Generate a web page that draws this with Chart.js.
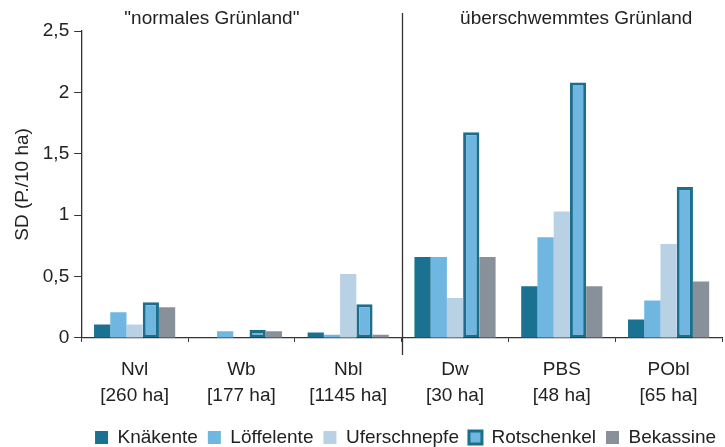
<!DOCTYPE html>
<html lang="de">
<head>
<meta charset="UTF-8">
<title>SD Wiesenbrüter</title>
<script src="https://cdn.jsdelivr.net/npm/chart.js"></script>
<style>
  body { margin: 0; background: #fff; }
  #wrap { width: 725px; height: 447px; }
</style>
</head>
<body>
<div id="wrap"><canvas id="c" width="725" height="447"></canvas></div>
<script>
const sites = ['Nvl', 'Wb', 'Nbl', 'Dw', 'PBS', 'PObl'];
const areas = ['[260 ha]', '[177 ha]', '[1145 ha]', '[30 ha]', '[48 ha]', '[65 ha]'];
const groupTitles = ['"normales Grünland"', 'überschwemmtes Grünland'];

const knaekente    = [0.11, 0,     0.045, 0.66, 0.42, 0.15];
const loeffelente  = [0.21, 0.055, 0.025, 0.66, 0.82, 0.305];
const uferschnepfe = [0.11, 0,     0.52,  0.325, 1.03, 0.765];
const rotschenkel  = [0.29, 0.065, 0.275, 1.675, 2.08, 1.23];
const bekassine    = [0.25, 0.055, 0.025, 0.66, 0.42, 0.46];

const FONT = 'Liberation Sans, Arial, sans-serif';
const TXT = '#222';

// Trennlinie + Gruppenüberschriften
const groupPlugin = {
  id: 'groups',
  afterLayout(chart) {
    // Legende unter dem Diagrammbereich zentrieren und etwas anheben
    const lg = chart.legend;
    const shift = (chart.chartArea.left + chart.chartArea.right) / 2 + 4 - (lg.left + lg.right) / 2;
    lg.left += shift;
    lg.right += shift;
    lg.top -= 6;
    lg.bottom -= 6;
  },
  afterDraw(chart) {
    const ctx = chart.ctx;
    const x = chart.scales.x;
    const area = chart.chartArea;
    const step = x.getPixelForValue(1) - x.getPixelForValue(0);
    const divX = Math.round(x.getPixelForValue(2) + step / 2) + 0.5;
    ctx.save();
    ctx.strokeStyle = '#333';
    ctx.lineWidth = 1.3;
    ctx.beginPath();
    ctx.moveTo(divX, 13);
    ctx.lineTo(divX, area.bottom + 17);
    ctx.stroke();
    ctx.fillStyle = TXT;
    ctx.font = '19px ' + FONT;
    ctx.textAlign = 'center';
    ctx.textBaseline = 'middle';
    ctx.fillText(groupTitles[0], (area.left + divX) / 2 - 30, 19);
    ctx.fillText(groupTitles[1], (divX + area.right) / 2 + 14, 19);
    ctx.restore();
  }
};

new Chart(document.getElementById('c'), {
  type: 'bar',
  data: {
    labels: sites.map((s, i) => [s, areas[i]]),
    datasets: [
      { label: 'Knäkente', data: knaekente, backgroundColor: '#1b7191', borderWidth: 0 },
      { label: 'Löffelente', data: loeffelente, backgroundColor: '#6fb6e0', borderWidth: 0 },
      { label: 'Uferschnepfe', data: uferschnepfe, backgroundColor: '#b9d1e5', borderWidth: 0 },
      { label: 'Rotschenkel', data: rotschenkel, backgroundColor: '#6fb6e0', borderColor: '#1d6e8d', borderWidth: 3, borderSkipped: false },
      { label: 'Bekassine', data: bekassine, backgroundColor: '#88919a', borderWidth: 0 }
    ]
  },
  options: {
    responsive: false,
    animation: false,
    layout: { padding: { top: 31, right: 3, left: 11, bottom: -16 } },
    datasets: { bar: { categoryPercentage: 0.76, barPercentage: 1.0 } },
    plugins: {
      tooltip: { enabled: false },
      legend: {
        position: 'bottom',
        labels: {
          color: TXT,
          font: { family: FONT, size: 19 },
          boxWidth: 13,
          boxHeight: 13,
          padding: 10
        }
      }
    },
    scales: {
      x: {
        grid: { drawOnChartArea: false, drawTicks: true, tickLength: 4, color: '#333', offset: true },
        border: { color: '#333', width: 1.3 },
        ticks: { color: TXT, font: { family: FONT, size: 19, lineHeight: 1.37 }, padding: 15, maxRotation: 0 }
      },
      y: {
        min: 0,
        max: 2.5,
        grid: { drawOnChartArea: false, drawTicks: true, tickLength: 7, color: '#333' },
        border: { color: '#333', width: 1.3 },
        ticks: {
          stepSize: 0.5,
          color: TXT,
          font: { family: FONT, size: 19 },
          padding: 5,
          callback: v => String(v).replace('.', ',')
        },
        title: { display: true, text: 'SD (P./10 ha)', color: TXT, font: { family: FONT, size: 19 }, padding: { top: 0, bottom: 4 } }
      }
    }
  },
  plugins: [groupPlugin]
});
</script>
</body>
</html>
